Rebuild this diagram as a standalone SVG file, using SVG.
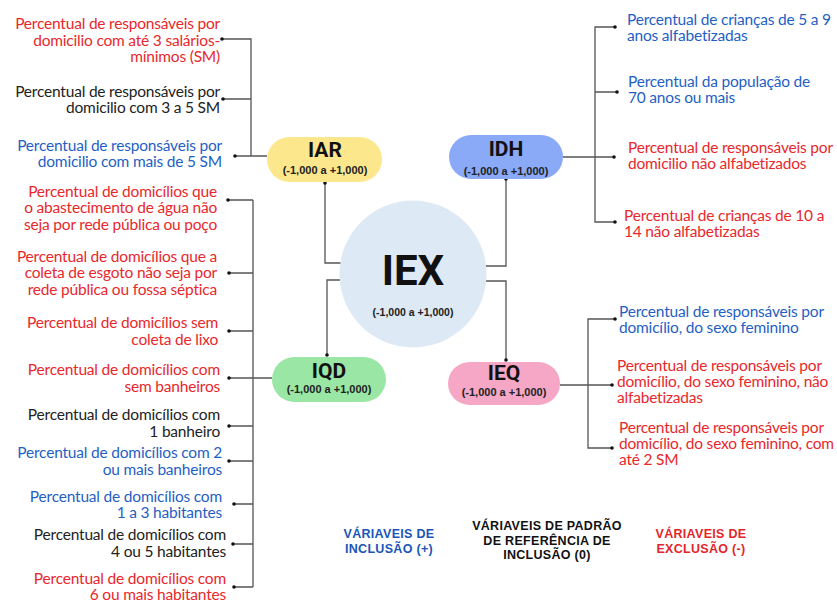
<svg xmlns="http://www.w3.org/2000/svg" width="837" height="602" viewBox="0 0 837 602">
<style>
.t{font-family:Lato,"Liberation Sans",sans-serif;font-size:15.5px;letter-spacing:-0.2px}
.r{fill:#e8282c}.b{fill:#1f5fc4}.k{fill:#222}
.e{text-anchor:end}
.ttl{font-family:Roboto,"Liberation Sans",sans-serif;font-weight:bold;font-size:21px;fill:#111;text-anchor:middle}
.sub{font-family:"Liberation Sans",Arial,sans-serif;font-weight:bold;font-size:11px;fill:#222;text-anchor:middle}
.lg{font-family:"Liberation Sans",Arial,sans-serif;font-weight:bold;font-size:12.5px;text-anchor:middle;letter-spacing:0.3px}
.ln{fill:none;stroke:#555;stroke-width:1.3}
.dot{fill:#111}
</style>
<rect width="837" height="602" fill="#fff"/>
<g id="connectors">
<path class="ln" d="M222,39H251V156M223,99H251M235,156H267"/>
<path class="ln" d="M253,200V587M228,200H253M229,273H253M229,331H253M229,378H272M229,426H253M229,461H253M234,504H253M233,544H253M234,587H253"/>
<path class="ln" d="M563,157H614M614,27H595V222H615M595,92H617"/>
<path class="ln" d="M560,385H612M615,319H588V448H612"/>
<path class="ln" d="M325,183V263H341M341,280H327V355M506,179V266H486M486,281H506V360"/>
<g class="dot">
<circle cx="222" cy="39" r="1.8"/><circle cx="223" cy="99" r="1.8"/><circle cx="235" cy="156" r="1.8"/>
<circle cx="228" cy="200" r="1.8"/><circle cx="229" cy="273" r="1.8"/><circle cx="229" cy="331" r="1.8"/><circle cx="229" cy="378" r="1.8"/><circle cx="229" cy="426" r="1.8"/><circle cx="229" cy="461" r="1.8"/><circle cx="234" cy="504" r="1.8"/><circle cx="233" cy="544" r="1.8"/><circle cx="234" cy="587" r="1.8"/>
<circle cx="615" cy="27" r="1.8"/><circle cx="617" cy="92" r="1.8"/><circle cx="614" cy="157" r="1.8"/><circle cx="615" cy="222" r="1.8"/>
<circle cx="615" cy="319" r="1.8"/><circle cx="612" cy="385" r="1.8"/><circle cx="612" cy="448" r="1.8"/>
<circle cx="325" cy="183" r="1.8"/><circle cx="327" cy="355" r="1.8"/><circle cx="506" cy="179" r="1.8"/><circle cx="506" cy="360" r="1.8"/>
</g>
</g>
<g id="IEX">
<circle cx="413" cy="274" r="73.5" fill="#dde9f4"/>
<text x="413" y="285" class="ttl" style="font-size:42px">IEX</text>
<text x="413" y="316" class="sub" style="font-size:10.5px">(-1,000 a +1,000)</text>
</g>
<g id="IAR">
<rect x="267" y="137" width="115" height="45" rx="22.5" fill="#fde78c"/>
<text x="325" y="157" class="ttl">IAR</text>
<text x="325" y="174" class="sub">(-1,000 a +1,000)</text>
</g>
<g id="IDH">
<rect x="449" y="135" width="114" height="44" rx="22" fill="#8aa9f7"/>
<text x="506" y="156" class="ttl">IDH</text>
<text x="506" y="175" class="sub">(-1,000 a +1,000)</text>
</g>
<g id="IQD">
<rect x="272" y="357" width="114" height="45" rx="22.5" fill="#9ae6a4"/>
<text x="329" y="378" class="ttl">IQD</text>
<text x="329" y="393" class="sub">(-1,000 a +1,000)</text>
</g>
<g id="IEQ">
<rect x="448" y="362" width="112" height="43" rx="21.5" fill="#f5a7c5"/>
<text x="504" y="380" class="ttl">IEQ</text>
<text x="504" y="396" class="sub">(-1,000 a +1,000)</text>
</g>
<g id="iar-vars">
<text class="t r e"><tspan x="220" y="29">Percentual de responsáveis por</tspan><tspan x="220" y="46">domicilio com até 3 salários-</tspan><tspan x="220" y="62">mínimos (SM)</tspan></text>
<text class="t k e"><tspan x="220" y="97">Percentual de responsáveis por</tspan><tspan x="220" y="113">domicilio com 3 a 5  SM</tspan></text>
<text class="t b e"><tspan x="222" y="151">Percentual de responsáveis por</tspan><tspan x="222" y="167">domicilio com mais de 5 SM</tspan></text>
</g>
<g id="iqd-vars">
<text class="t r e"><tspan x="217" y="197">Percentual de domicílios que</tspan><tspan x="217" y="213">o abastecimento de água não</tspan><tspan x="217" y="230">seja por rede pública ou poço</tspan></text>
<text class="t r e"><tspan x="217" y="262">Percentual de domicílios que a</tspan><tspan x="217" y="278">coleta de esgoto não seja por</tspan><tspan x="217" y="295">rede pública ou fossa séptica</tspan></text>
<text class="t r e"><tspan x="218" y="328">Percentual de domicílios sem</tspan><tspan x="218" y="345">coleta de lixo</tspan></text>
<text class="t r e"><tspan x="220" y="375">Percentual de domicílios com</tspan><tspan x="220" y="392">sem banheiros</tspan></text>
<text class="t k e"><tspan x="220" y="420">Percentual de domicílios com</tspan><tspan x="220" y="437">1 banheiro</tspan></text>
<text class="t b e"><tspan x="222" y="458">Percentual de domicílios com 2</tspan><tspan x="222" y="475">ou mais banheiros</tspan></text>
<text class="t b e"><tspan x="222" y="502">Percentual de domicílios com</tspan><tspan x="222" y="518">1 a 3 habitantes</tspan></text>
<text class="t k e"><tspan x="226" y="540">Percentual de domicílios com</tspan><tspan x="226" y="557">4 ou 5 habitantes</tspan></text>
<text class="t r e"><tspan x="226" y="584">Percentual de domicílios com</tspan><tspan x="226" y="600">6 ou mais habitantes</tspan></text>
</g>
<g id="idh-vars">
<text class="t b"><tspan x="627" y="25">Percentual de crianças de 5 a 9</tspan><tspan x="627" y="41">anos alfabetizadas</tspan></text>
<text class="t b"><tspan x="628" y="87">Percentual da população de</tspan><tspan x="628" y="103">70 anos ou mais</tspan></text>
<text class="t r"><tspan x="628" y="153">Percentual de responsáveis por</tspan><tspan x="628" y="169">domicilio não alfabetizados</tspan></text>
<text class="t r"><tspan x="624" y="221">Percentual de crianças de 10 a</tspan><tspan x="624" y="237">14 não alfabetizadas</tspan></text>
</g>
<g id="ieq-vars">
<text class="t b"><tspan x="619" y="317">Percentual de responsáveis por</tspan><tspan x="619" y="333">domicílio, do sexo feminino</tspan></text>
<text class="t r"><tspan x="617" y="371">Percentual de responsáveis por</tspan><tspan x="617" y="387">domicílio, do sexo feminino, não</tspan><tspan x="617" y="403">alfabetizadas</tspan></text>
<text class="t r"><tspan x="619" y="433">Percentual de responsáveis por</tspan><tspan x="619" y="449">domicílio, do sexo feminino, com</tspan><tspan x="619" y="465">até 2 SM</tspan></text>
</g>
<g id="legend">
<text class="lg" fill="#1a56b8"><tspan x="389" y="538">VÁRIAVEIS DE</tspan><tspan x="389" y="553">INCLUSÃO (+)</tspan></text>
<text class="lg" fill="#111"><tspan x="547" y="530">VÁRIAVEIS DE PADRÃO</tspan><tspan x="547" y="545">DE REFERÊNCIA DE</tspan><tspan x="547" y="559">INCLUSÃO (0)</tspan></text>
<text class="lg" fill="#e3262b"><tspan x="701" y="538">VÁRIAVEIS DE</tspan><tspan x="701" y="553">EXCLUSÃO (-)</tspan></text>
</g>
</svg>
